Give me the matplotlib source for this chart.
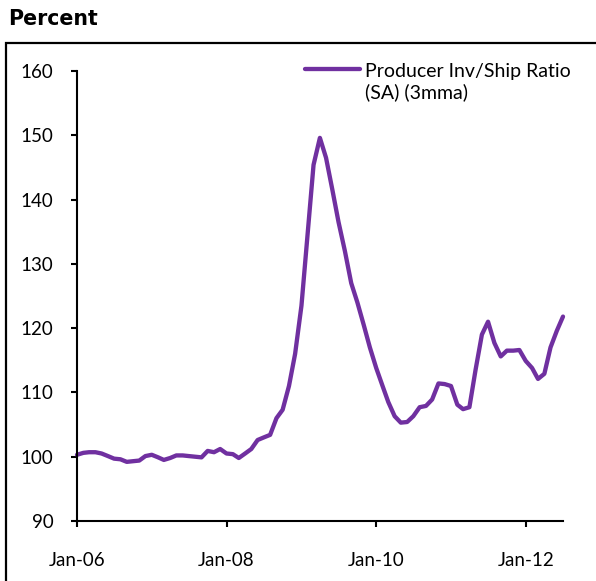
import matplotlib
matplotlib.use("Agg")
import matplotlib.pyplot as plt
from matplotlib.lines import Line2D
from matplotlib.patches import Rectangle
import pandas as pd

# Monthly series, Jan 2006 onward
months = pd.date_range("2006-01-01", periods=79, freq="MS")
inv_ship_ratio = [
    100.3, 100.6, 100.7, 100.7, 100.5, 100.1, 99.7, 99.6, 99.2, 99.3,
    99.4, 100.1, 100.3, 99.9, 99.5, 99.8, 100.2, 100.2, 100.1, 100.0,
    99.9, 100.9, 100.7, 101.2, 100.5, 100.4, 99.8, 100.5, 101.2, 102.6,
    103.0, 103.4, 106.0, 107.3, 111.0, 116.0, 123.5, 135.0, 145.4, 149.6,
    146.5, 141.5, 136.5, 132.0, 127.0, 124.0, 120.5, 117.0, 113.8, 111.0,
    108.5, 106.3, 105.3, 105.4, 106.3, 107.7, 107.9, 108.9, 111.4, 111.3,
    111.0, 108.1, 107.4, 107.7, 113.5, 119.0, 121.0, 117.7, 115.6, 116.5,
    116.5, 116.6, 114.9, 113.8, 112.1, 112.9, 117.0, 119.6, 121.8,
]
series_label = "Producer Inv/Ship Ratio\n(SA) (3mma)"
y_ticks = [90, 100, 110, 120, 130, 140, 150, 160]
x_tick_dates = pd.to_datetime(["2006-01-01", "2008-01-01", "2010-01-01", "2012-01-01"])
x_tick_labels = ["Jan-06", "Jan-08", "Jan-10", "Jan-12"]

PURPLE = "#7030A0"
FONT = "Lato"

W, H = 596, 581
fig = plt.figure(figsize=(W / 100, H / 100), dpi=100)
ax = fig.add_axes([77 / W, (H - 521) / H, (563 - 77) / W, (521 - 71) / H])

ax.plot(months, inv_ship_ratio, color=PURPLE, lw=3.1, solid_joinstyle="round",
        solid_capstyle="round", clip_on=False)

ax.set_ylim(90, 160)
ax.set_xlim(months[0], months[-1])
ax.set_yticks(y_ticks)
ax.set_yticklabels([str(v) for v in y_ticks], fontsize=13.5, family=FONT)
ax.set_xticks(x_tick_dates)
ax.set_xticklabels(x_tick_labels, fontsize=13.5, family=FONT)

for side in ("top", "right"):
    ax.spines[side].set_visible(False)
for side in ("left", "bottom"):
    ax.spines[side].set_linewidth(1.5)
    ax.spines[side].set_color("black")
ax.tick_params(axis="y", direction="out", length=4, width=1.5, pad=13)
ax.tick_params(axis="x", direction="out", length=4.5, width=1.5, pad=18)

# Legend drawn as a key line beside a two-line label
key_y = (521 - 69) / 450
ax.add_line(Line2D([(305 - 77) / (563 - 77), (360 - 77) / (563 - 77)],
                   [key_y, key_y],
                   transform=ax.transAxes, color=PURPLE, lw=3.1,
                   solid_capstyle="round", clip_on=False))
ax.text((365 - 77) / (563 - 77), (521 - 63) / 450, series_label,
        transform=ax.transAxes, ha="left", va="top", fontsize=14, family=FONT,
        linespacing=1.25)

# Outer frame and heading
fig.patches.append(Rectangle((5.5 / W, -0.1), 1.2, (H - 42.5) / H + 0.1,
                             transform=fig.transFigure, fill=False,
                             edgecolor="black", lw=1.6))
fig.text(8 / W, (H - 19) / H, "Percent", fontsize=14.8, fontweight="bold",
         family="DejaVu Sans", ha="left", va="center")

fig.savefig("out.png", dpi=100)
